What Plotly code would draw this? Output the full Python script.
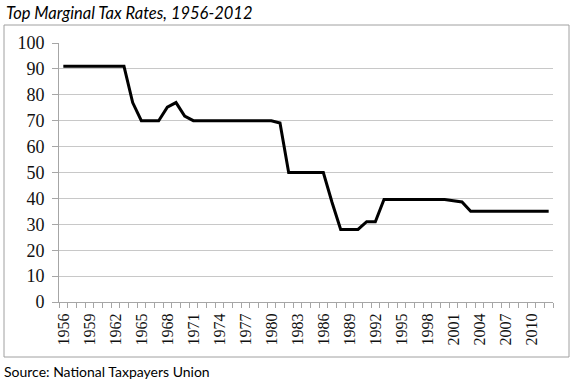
import plotly.graph_objects as go

years = [1956, 1957, 1958, 1959, 1960, 1961, 1962, 1963, 1964, 1965,
         1966, 1967, 1968, 1969, 1970, 1971, 1972, 1973, 1974, 1975,
         1976, 1977, 1978, 1979, 1980, 1981, 1982, 1983, 1984, 1985,
         1986, 1987, 1988, 1989, 1990, 1991, 1992, 1993, 1994, 1995,
         1996, 1997, 1998, 1999, 2000, 2001, 2002, 2003, 2004, 2005,
         2006, 2007, 2008, 2009, 2010, 2011, 2012]
top_rates = [91, 91, 91, 91, 91, 91, 91, 91, 77, 70,
             70, 70, 75.25, 77, 71.75, 70, 70, 70, 70, 70,
             70, 70, 70, 70, 70, 69.13, 50, 50, 50, 50,
             50, 38.5, 28, 28, 28, 31, 31, 39.6, 39.6, 39.6,
             39.6, 39.6, 39.6, 39.6, 39.6, 39.1, 38.6, 35, 35, 35,
             35, 35, 35, 35, 35, 35, 35]
x_tick_years = [1956, 1959, 1962, 1965, 1968, 1971, 1974, 1977, 1980, 1983,
                1986, 1989, 1992, 1995, 1998, 2001, 2004, 2007, 2010]
y_ticks = [0, 10, 20, 30, 40, 50, 60, 70, 80, 90, 100]

title_text = "Top Marginal Tax Rates, 1956-2012"
source_text = "Source: National Taxpayers Union"

W, H = 574, 382
L, R, T, B = 59, 21, 43, 80
pw, ph = W - L - R, H - T - B

def px(xp):
    return (xp - L) / pw

def py(yp):
    return (H - B - yp) / ph

fig = go.Figure()
fig.add_trace(go.Scatter(
    x=years, y=top_rates, mode="lines",
    line=dict(color="black", width=3), showlegend=False, hoverinfo="skip"))

grey = "#a6a6a6"
fig.update_layout(
    width=W, height=H,
    margin=dict(l=L, r=R, t=T, b=B),
    paper_bgcolor="white", plot_bgcolor="white",
    font=dict(family="Liberation Serif", color="black"),
    xaxis=dict(
        range=[1955.5, 2012.5],
        tickmode="array",
        tickvals=x_tick_years,
        ticktext=[str(v) for v in x_tick_years],
        tickangle=-90,
        tickfont=dict(family="Liberation Serif", size=16, color="#111"),
        ticks="outside", ticklen=0, tickcolor=grey,
        ticklabelstandoff=4,
        showgrid=False, zeroline=False,
        showline=True, linecolor=grey, linewidth=1,
        minor=dict(tickmode="linear", tick0=1955.5, dtick=1,
                   ticks="outside", ticklen=5, tickcolor=grey, showgrid=False),
        fixedrange=True,
    ),
    yaxis=dict(
        range=[0, 100],
        tickmode="array", tickvals=y_ticks,
        tickfont=dict(family="Liberation Serif", size=18, color="#111"),
        ticks="outside", ticklen=6, tickcolor=grey,
        ticklabelstandoff=4,
        showgrid=True, gridcolor="#c8c8c8", gridwidth=1,
        zeroline=False,
        showline=True, linecolor=grey, linewidth=1,
        fixedrange=True,
    ),
    shapes=[dict(type="rect", xref="paper", yref="paper",
                 x0=px(4), x1=px(569), y0=py(357), y1=py(25),
                 line=dict(color="#a0a0a0", width=1), fillcolor="rgba(0,0,0,0)",
                 layer="below")],
    annotations=[
        dict(text=f"<i>{title_text}</i>", xref="paper", yref="paper",
             x=px(4), y=py(13), xanchor="left", yanchor="middle",
             showarrow=False, font=dict(family="Lato", size=16.5, color="black")),
        dict(text=source_text, xref="paper", yref="paper",
             x=px(2), y=py(371), xanchor="left", yanchor="middle",
             showarrow=False, font=dict(family="Lato", size=14, color="black")),
    ],
)

fig.write_html(
    "out.html",
    config={"displayModeBar": False, "staticPlot": True},
    post_script="document.body.style.margin='0';document.body.style.padding='0';document.body.style.overflow='hidden';",
)
